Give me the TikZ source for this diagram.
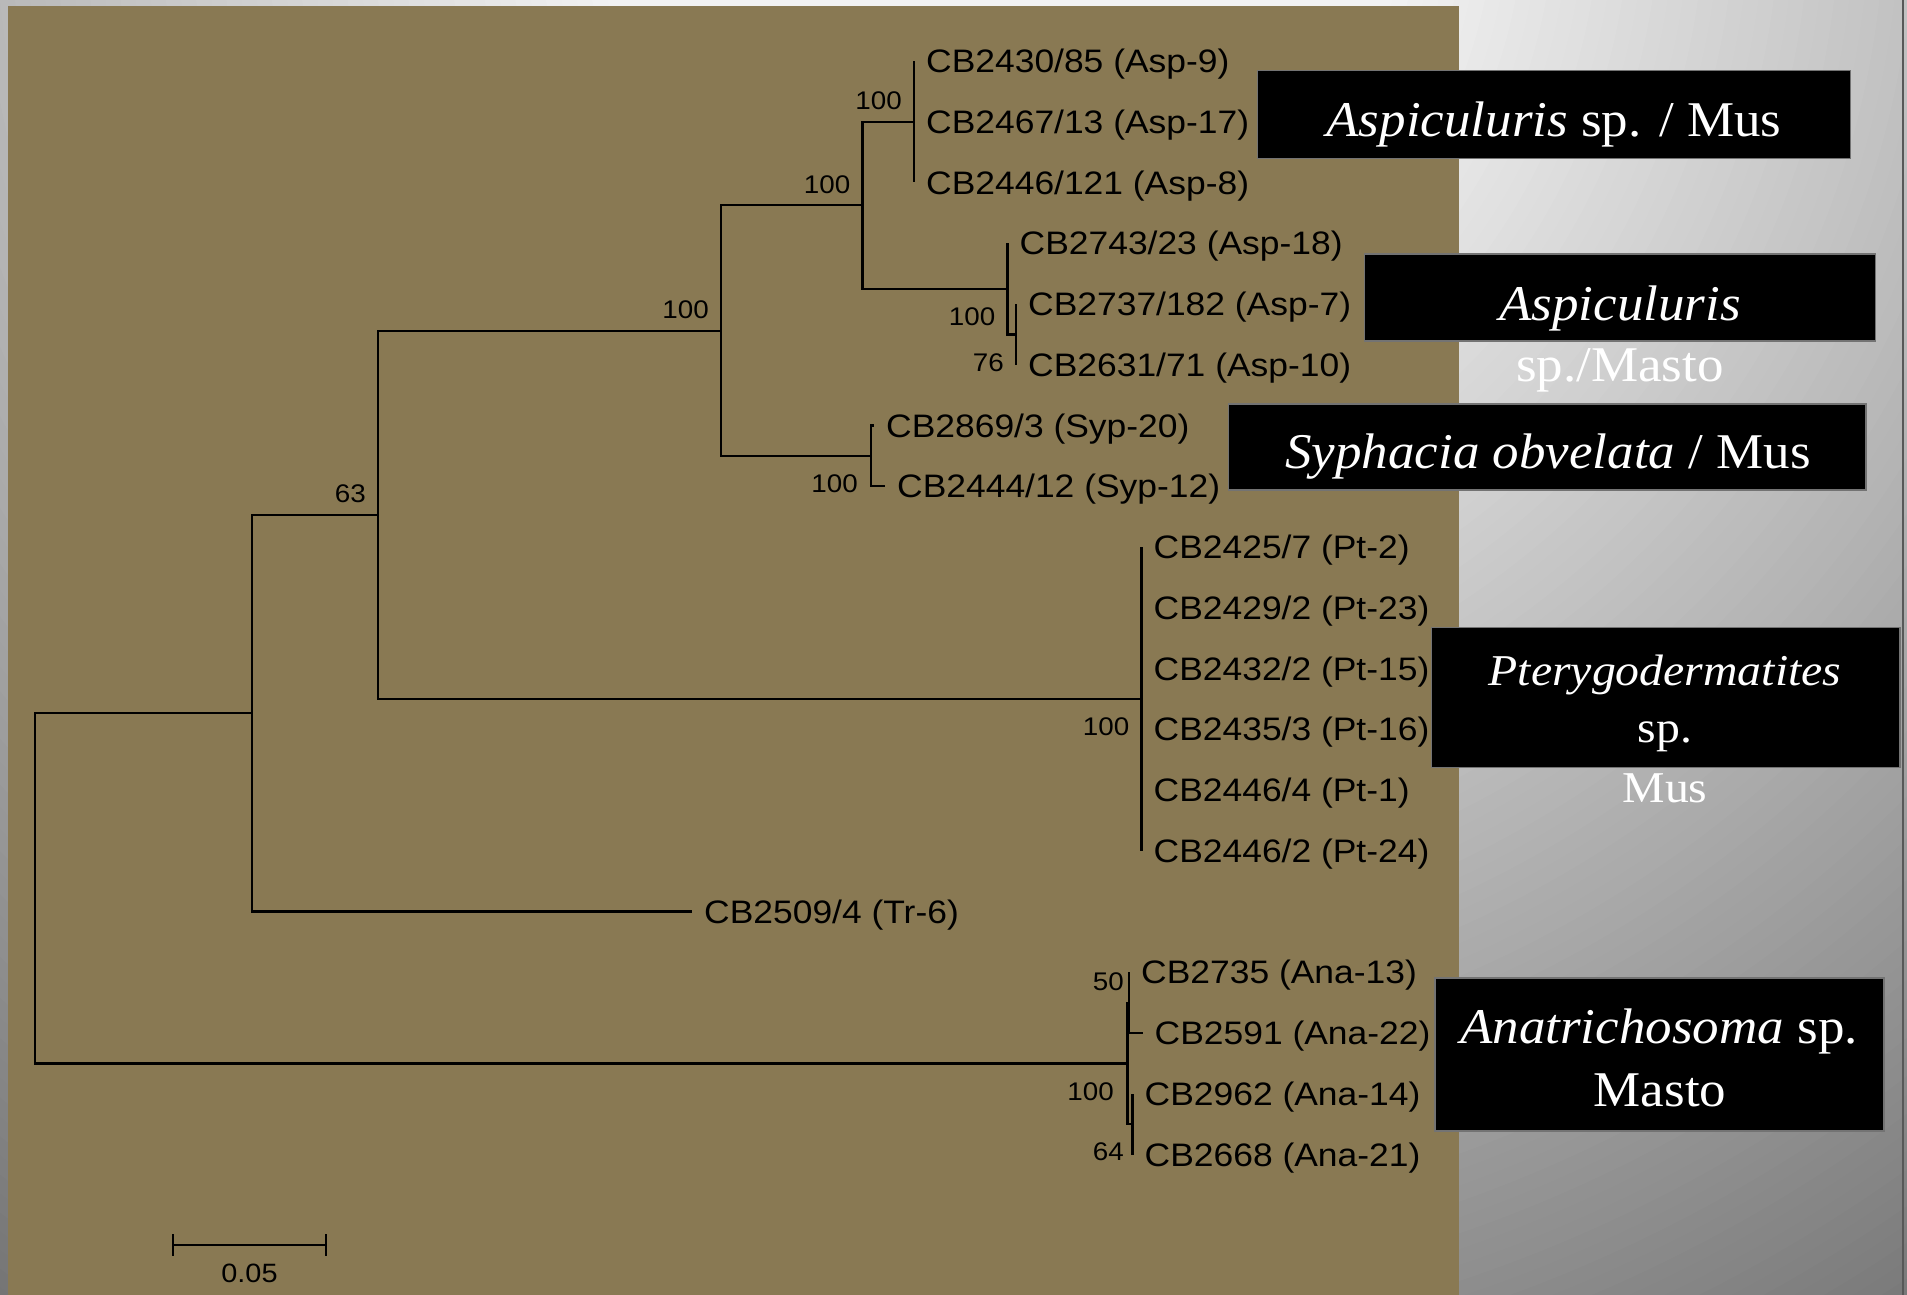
\documentclass[tikz,border=0pt]{standalone}
\usepackage{fontspec}
\newfontfamily\treefont[FakeStretch=1.09]{Liberation Sans}
\newfontfamily\capfont[FakeStretch=1.06]{Liberation Serif}
\newfontfamily\capfontw[FakeStretch=1.085]{Liberation Serif}

\definecolor{panel}{RGB}{137,121,83}
\definecolor{edge}{RGB}{88,88,88}
\definecolor{boxrule}{RGB}{115,115,115}

\begin{document}
\begin{tikzpicture}[x=1pt,y=-1pt,
  branch/.style={line width=2.2pt, line join=miter},
  tiplab/.style={font=\treefont\fontsize{32.5}{39}\selectfont, anchor=base west, inner sep=0pt},
  boot/.style={font=\treefont\fontsize{25.5}{30}\selectfont, anchor=base east, inner sep=0pt},
  cladebox/.style={fill=black, draw=boxrule, line width=1.2pt, inner sep=0pt},
  cladetext/.style={font=\capfont\fontsize{50}{60}\selectfont, text=white, anchor=base, inner sep=0pt},
  cladetextw/.style={font=\capfontw\fontsize{44}{52}\selectfont, text=white, anchor=base, inner sep=0pt}]

\useasboundingbox (0,0) rectangle (1907,1295);

% grey backdrop: a glow centred just above the top edge, darkening outwards
\begin{scope}
  \clip (0,0) rectangle (1907,1295);
  \foreach \r in {1815,1800,...,390} {
    \pgfmathsetmacro\g{min(242,280.7-0.095*\r)/255}
    \definecolor{ring}{gray}{\g}
    \fill[ring] (1000,-100) circle[radius=\r pt];
  }
\end{scope}
\fill[panel] (8,6) rectangle (1459,1295);
\draw[edge, line width=2pt] (1903,0) -- (1903,1295);

% internal nodes of the tree
\coordinate (root) at (35,888.2);
\coordinate (nA) at (252,713.1);
\coordinate (nB) at (378,514.7);
\coordinate (nC) at (721,330.6);
\coordinate (nD) at (862.5,205.3);
\coordinate (nAsp1) at (914,121.75);
\coordinate (nAsp2) at (1007.5,288.8);
\coordinate (nE) at (1016,334.4);
\coordinate (nSyp) at (871,455.9);
\coordinate (nPt) at (1141.5,698.9);
\coordinate (nAna) at (1127.5,1063.4);
\coordinate (nF) at (1129,1002.6);
\coordinate (nG) at (1132.5,1124.1);

% branch tips
\coordinate (e0) at (914,61);
\coordinate (e1) at (914,121.75);
\coordinate (e2) at (914,182.5);
\coordinate (e3) at (1007.5,243.25);
\coordinate (e4) at (1016,304);
\coordinate (e5) at (1016,364.75);
\coordinate (e6) at (874,425.5);
\coordinate (e7) at (885,486.25);
\coordinate (e8) at (1141.5,547);
\coordinate (e9) at (1141.5,607.75);
\coordinate (e10) at (1141.5,668.5);
\coordinate (e11) at (1141.5,729.25);
\coordinate (e12) at (1141.5,790);
\coordinate (e13) at (1141.5,850.75);
\coordinate (e14) at (692,911.5);
\coordinate (e15) at (1129,972.25);
\coordinate (e16) at (1142.5,1033);
\coordinate (e17) at (1132.5,1093.75);
\coordinate (e18) at (1132.5,1154.5);

% branches
\draw[branch] (root) |- (nA);
\draw[branch] (root) |- (nAna);
\draw[branch] (nA) |- (nB);
\draw[branch] (nA) |- (e14);
\draw[branch] (nB) |- (nC);
\draw[branch] (nB) |- (nPt);
\draw[branch] (nC) |- (nD);
\draw[branch] (nC) |- (nSyp);
\draw[branch] (nD) |- (nAsp1);
\draw[branch] (nD) |- (nAsp2);
\draw[branch] (nAsp1) -- (e0);
\draw[branch] (nAsp1) -- (e2);
\draw[branch] (nAsp2) |- (e3);
\draw[branch] (nAsp2) |- (nE);
\draw[branch] (nE) -- (e4);
\draw[branch] (nE) -- (e5);
\draw[branch] (nSyp) |- (e6);
\draw[branch] (nSyp) |- (e7);
\draw[branch] (nPt) -- (e8);
\draw[branch] (nPt) -- (e13);
\draw[branch] (nAna) |- (nF);
\draw[branch] (nAna) |- (nG);
\draw[branch] (nF) -- (e15);
\draw[branch] (nF) |- (e16);
\draw[branch] (nG) -- (e17);
\draw[branch] (nG) -- (e18);

% taxon labels
\path (e0) ++(12,11.6) node[tiplab] (l0) {CB2430/85 (Asp-9)};
\path (e1) ++(12,11.6) node[tiplab] (l1) {CB2467/13 (Asp-17)};
\path (e2) ++(12,11.6) node[tiplab] (l2) {CB2446/121 (Asp-8)};
\path (e3) ++(12,11.6) node[tiplab] (l3) {CB2743/23 (Asp-18)};
\path (e4) ++(12,11.6) node[tiplab] (l4) {CB2737/182 (Asp-7)};
\path (e5) ++(12,11.6) node[tiplab] (l5) {CB2631/71 (Asp-10)};
\path (e6) ++(12,11.6) node[tiplab] (l6) {CB2869/3 (Syp-20)};
\path (e7) ++(12,11.6) node[tiplab] (l7) {CB2444/12 (Syp-12)};
\path (e8) ++(12,11.6) node[tiplab] (l8) {CB2425/7 (Pt-2)};
\path (e9) ++(12,11.6) node[tiplab] (l9) {CB2429/2 (Pt-23)};
\path (e10) ++(12,11.6) node[tiplab] (l10) {CB2432/2 (Pt-15)};
\path (e11) ++(12,11.6) node[tiplab] (l11) {CB2435/3 (Pt-16)};
\path (e12) ++(12,11.6) node[tiplab] (l12) {CB2446/4 (Pt-1)};
\path (e13) ++(12,11.6) node[tiplab] (l13) {CB2446/2 (Pt-24)};
\path (e14) ++(12,11.6) node[tiplab] (l14) {CB2509/4 (Tr-6)};
\path (e15) ++(12,11.6) node[tiplab] (l15) {CB2735 (Ana-13)};
\path (e16) ++(12,11.6) node[tiplab] (l16) {CB2591 (Ana-22)};
\path (e17) ++(12,11.6) node[tiplab] (l17) {CB2962 (Ana-14)};
\path (e18) ++(12,11.6) node[tiplab] (l18) {CB2668 (Ana-21)};

% bootstrap values
\path (nAsp1) ++(-12,-11.9) node[boot] (bAsp1) {100};
\path (nD) ++(-12,-11.9) node[boot] (bD) {100};
\path (nC) ++(-12,-11.9) node[boot] (bC) {100};
\path (nB) ++(-12,-11.9) node[boot] (bB) {63};
\path (nAsp2) ++(-12,36.6) node[boot] (bAsp2) {100};
\path (nE) ++(-12,36.6) node[boot] (bE) {76};
\path (nSyp) ++(-13,36.6) node[boot] (bSyp) {100};
\path (nPt) ++(-12,36.6) node[boot] (bPt) {100};
\path (nAna) ++(-13.5,36.6) node[boot] (bAna) {100};
\path (nF) ++(-5,-11.9) node[boot] (bF) {50};
\path (nG) ++(-8.5,36.6) node[boot] (bG) {64};

% scale bar
\coordinate (sb0) at (173,1245);
\coordinate (sb1) at (326,1245);
\draw[branch] (sb0) -- (sb1);
\draw[branch] (sb0) ++(0,-11) -- ++(0,22);
\draw[branch] (sb1) ++(0,-11) -- ++(0,22);
\node[boot, anchor=base, font=\treefont\fontsize{26.5}{31}\selectfont] (sblab) at (249.5,1282) {0.05};

% clade captions
\node[cladebox, minimum width=593pt, minimum height=88pt] (box1) at (1554,114.5) {};
\node[cladetext] (c1) at (1554,136.5) {\textit{Aspiculuris} sp. / Mus};

\node[cladebox, minimum width=511pt, minimum height=87pt] (box2) at (1620,297.5) {};
\node[cladetext] (c2) at (1620,320.5) {\textit{Aspiculuris}};
\node[cladetext] (c2b) at (1620,381) {sp./Masto};

\node[cladebox, minimum width=637.5pt, minimum height=86pt] (box3) at (1547.25,447) {};
\node[cladetext] (c3) at (1548,468) {\textit{Syphacia obvelata} / Mus};

\node[cladebox, minimum width=468.5pt, minimum height=140pt] (box4) at (1665.75,697.5) {};
\node[cladetextw] (c4) at (1665,685.5) {\textit{Pterygodermatites}};
\node[cladetextw] (c4b) at (1665,742) {sp.};
\node[cladetextw] (c4c) at (1665,802.5) {Mus};

\node[cladebox, minimum width=449pt, minimum height=153pt] (box5) at (1659.5,1054.5) {};
\node[cladetext] (c5) at (1659,1043.5) {\textit{Anatrichosoma} sp.};
\node[cladetext] (c5b) at (1660,1106.5) {Masto};
\end{tikzpicture}
\end{document}
